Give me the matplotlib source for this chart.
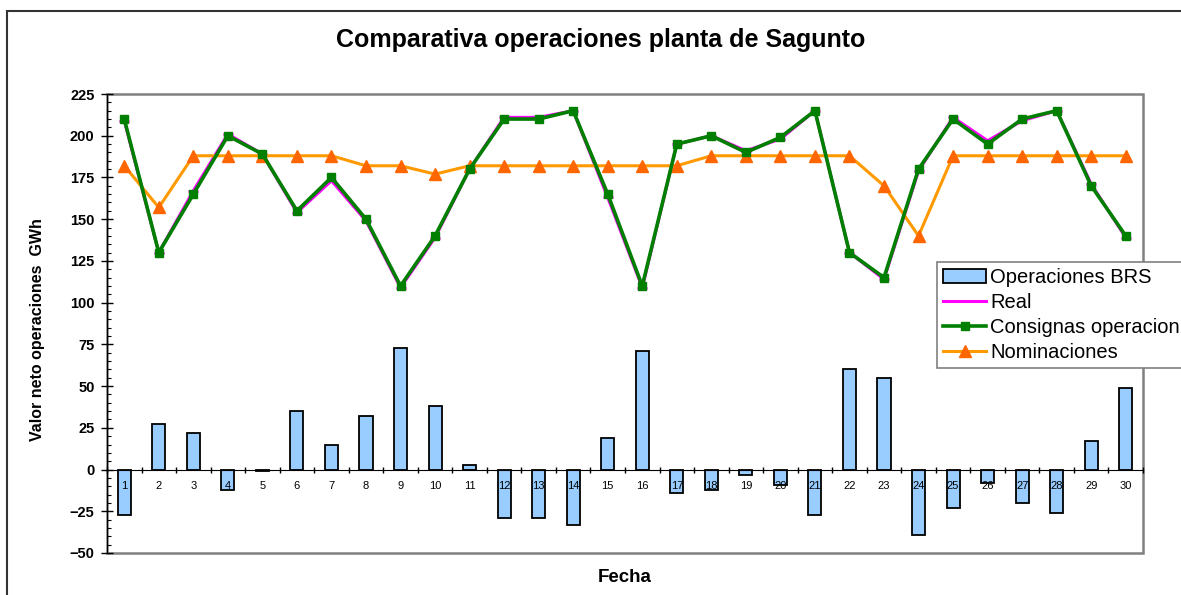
import numpy as np
import matplotlib
matplotlib.use("Agg")
import matplotlib.pyplot as plt
from matplotlib.patches import Rectangle

plt.rcParams['font.family'] = ['Liberation Sans', 'DejaVu Sans']

# datos
dias = list(range(1, 31))
brs = [-27, 27, 22, -12, -1, 35, 15, 32, 73, 38,
       3, -29, -29, -33, 19, 71, -14, -12, -3, -9,
       -27, 60, 55, -39, -23, -8, -20, -26, 17, 49]
real = [209, 130, 167, 201, 189, 154, 173, 149, 109, 139,
        180, 211, 211, 215, 163, 109, 195, 200, 191, 198,
        215, 130, 114, 179, 211, 197, 209, 215, 171, 139]
consignas = [210, 130, 165, 200, 189, 155, 175, 150, 110, 140,
             180, 210, 210, 215, 165, 110, 195, 200, 190, 199,
             215, 130, 115, 180, 210, 195, 210, 215, 170, 140]
nominaciones = [182, 157, 188, 188, 188, 188, 188, 182, 182, 177,
                182, 182, 182, 182, 182, 182, 182, 188, 188, 188,
                188, 188, 170, 140, 188, 188, 188, 188, 188, 188]

fig = plt.figure(figsize=(11.81, 5.95), dpi=100)
W, H = 1181, 595
ax = fig.add_axes([107 / W, 1 - 553 / H, (1143 - 107) / W, (553 - 94) / H])
ax.set_axisbelow(False)

# marco exterior del grafico (se sale por la derecha y abajo)
fig.patches.append(Rectangle((7 / W, -0.1), 1.2, 1.1 - 11 / H, transform=fig.transFigure,
                             fill=False, edgecolor='#333333', linewidth=1.5))

x = np.array(dias)
b = ax.bar(x, brs, width=0.38, color='#99CCFF', edgecolor='black', linewidth=1.3,
           label='Operaciones BRS', zorder=2)
l1, = ax.plot(x, real, color='#FF00FF', linewidth=2.2, marker='_', markersize=7,
              markeredgewidth=2, label='Real', zorder=3)
l2, = ax.plot(x, consignas, color='#007F00', linewidth=2.6, marker='s', markersize=6,
              label='Consignas operacion', zorder=4)
l3, = ax.plot(x, nominaciones, color='#FF9900', linewidth=2.2, marker='^', markersize=8,
              markerfacecolor='#FF6600', markeredgecolor='#FF6600',
              label='Nominaciones', zorder=3)

ax.set_xlim(0.5, 30.5)
ax.set_ylim(-50, 225)

# ejes
for s in ['top', 'right']:
    ax.spines[s].set_visible(False)
ax.spines['left'].set_color('black')
ax.spines['bottom'].set_position(('data', 0))
ax.spines['bottom'].set_color('black')
ax.add_patch(Rectangle((0, 0), 1, 1, transform=ax.transAxes, fill=False,
                       edgecolor='#808080', linewidth=1.8, zorder=0.5, clip_on=False))

ax.set_yticks(np.arange(-50, 226, 25))
ax.set_yticks(np.arange(-50, 226, 5), minor=True)
ax.tick_params(axis='y', which='major', direction='inout', length=8, width=1,
               labelsize=10.5, pad=5)
ax.tick_params(axis='y', which='minor', direction='in', length=3, width=0.8)
for t in ax.get_yticklabels():
    t.set_fontweight('bold')

ax.set_xticks(np.arange(0.5, 31, 1))
ax.set_xticklabels([])
ax.set_xticks(x, minor=True)
ax.set_xticklabels([str(d) for d in dias], minor=True)
ax.tick_params(axis='x', which='major', direction='inout', length=5, width=1)
ax.tick_params(axis='x', which='minor', length=0, labelsize=8, pad=8)

fig.text(601 / W, 1 - 40 / H, 'Comparativa operaciones planta de Sagunto',
         ha='center', va='center', fontsize=18, fontweight='bold')
fig.text(625 / W, 1 - 577 / H, 'Fecha', ha='center', va='center',
         fontsize=13.5, fontweight='bold')
fig.text(38 / W, 1 - 330 / H, 'Valor neto operaciones  GWh', ha='center', va='center',
         rotation=90, fontsize=11.5, fontweight='bold')

leg = fig.legend([b, l1, l2, l3],
                 ['Operaciones BRS', 'Real', 'Consignas operacion', 'Nominaciones'],
                 loc='upper left', bbox_to_anchor=(937 / W, 1 - 262 / H),
                 bbox_transform=fig.transFigure, borderaxespad=0, fontsize=14.5,
                 frameon=True, fancybox=False, framealpha=1, edgecolor='#808080',
                 handlelength=2.15, handletextpad=0.2, labelspacing=0.3,
                 borderpad=0.3)
leg.get_frame().set_linewidth(1.2)

fig.savefig('out.png', dpi=100)
